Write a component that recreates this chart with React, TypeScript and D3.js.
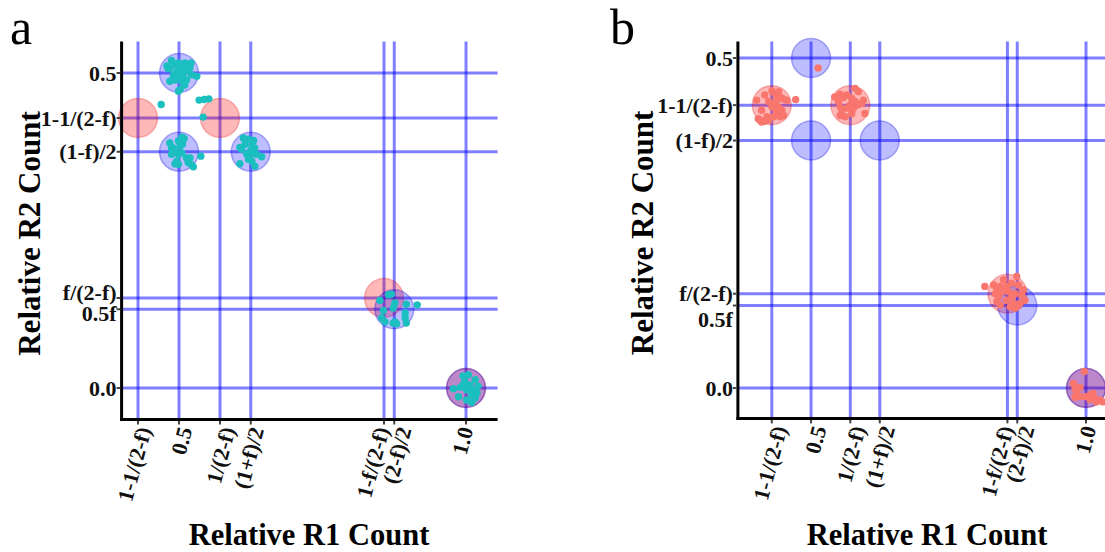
import React from "react";
import * as d3 from "d3";

// ---- tick values / labels (f ≈ 0.25) ----
const xTickValues = [0.4286, 0.5, 0.5714, 0.625, 0.8571, 0.875, 1.0];
const xTickLabels = ["1-1/(2-f)", "0.5", "1/(2-f)", "(1+f)/2", "1-f/(2-f)", "(2-f)/2", "1.0"];
const yTickValues = [0.5, 0.4286, 0.375, 0.1429, 0.125, 0.0];
const yTickLabels = ["0.5", "1-1/(2-f)", "(1-f)/2", "f/(2-f)", "0.5f", "0.0"];

// expected cluster centres
const blueCentersX = [0.5, 0.5, 0.625, 0.875, 1.0];
const blueCentersY = [0.5, 0.375, 0.375, 0.125, 0.0];
const redCentersX = [0.4286, 0.5714, 0.8571, 1.0];
const redCentersY = [0.4286, 0.4286, 0.1429, 0.0];

// axis domains
const panelAXDomain = [0.4, 1.055];
const panelAYDomain = [-0.05, 0.55];
const panelBXDomain = [0.367, 1.04];
const panelBYDomain = [-0.046, 0.525];

// observed points, panel a
const panelAX = [
  0.487, 0.479, 0.484, 0.493, 0.499, 0.505, 0.51, 0.516, 0.521, 0.519, 0.513, 0.508, 0.502, 0.496, 0.49, 0.484, 0.493, 0.499, 0.505, 0.51, 0.502, 0.499, 0.513, 0.522, 0.531, 0.481, 0.506,
  0.469, 0.535, 0.544, 0.552, 0.542,
  0.484, 0.487, 0.505, 0.509, 0.499, 0.502, 0.493, 0.487, 0.499, 0.505, 0.496, 0.493, 0.499, 0.513, 0.519, 0.516, 0.522, 0.525, 0.538, 0.49, 0.506,
  0.612, 0.621, 0.63, 0.615, 0.606, 0.609, 0.627, 0.632, 0.624, 0.63, 0.618, 0.635, 0.644, 0.606, 0.621, 0.632, 0.627,
  0.865, 0.87, 0.85, 0.856, 0.853, 0.859, 0.873, 0.876, 0.896, 0.915, 0.894, 0.894, 0.896, 0.876, 0.873, 0.879,
  0.995, 1.004, 1.016, 1.007, 0.998, 0.99, 0.978, 0.987, 1.001, 1.013, 1.021, 1.019, 1.01, 1.016, 1.001, 1.01, 0.995,
];
const panelAY = [
  0.52, 0.511, 0.508, 0.513, 0.516, 0.511, 0.516, 0.513, 0.516, 0.508, 0.503, 0.5, 0.505, 0.502, 0.497, 0.487, 0.489, 0.492, 0.487, 0.481, 0.474, 0.471, 0.489, 0.497, 0.495, 0.507, 0.495,
  0.45, 0.457, 0.458, 0.459, 0.43,
  0.389, 0.381, 0.398, 0.396, 0.392, 0.384, 0.376, 0.371, 0.371, 0.373, 0.36, 0.356, 0.355, 0.365, 0.365, 0.358, 0.354, 0.351, 0.368, 0.381, 0.387,
  0.397, 0.395, 0.393, 0.387, 0.382, 0.379, 0.384, 0.381, 0.376, 0.372, 0.371, 0.371, 0.367, 0.356, 0.363, 0.352, 0.36,
  0.148, 0.149, 0.139, 0.123, 0.111, 0.105, 0.127, 0.135, 0.133, 0.132, 0.119, 0.111, 0.103, 0.105, 0.103, 0.102,
  0.019, 0.021, 0.013, 0.005, 0.01, 0.001, -0.001, -0.014, -0.003, -0.003, 0.003, -0.008, -0.011, -0.016, -0.019, -0.023, 0.005,
];

// observed points, panel b
const panelBX = [
  0.513,
  0.401, 0.41, 0.416, 0.429, 0.435, 0.441, 0.444, 0.45, 0.456, 0.438, 0.432, 0.429, 0.435, 0.441, 0.447, 0.438, 0.432, 0.444, 0.45, 0.42, 0.407, 0.404, 0.41, 0.416, 0.423, 0.472, 0.423,
  0.543, 0.553, 0.559, 0.565, 0.58, 0.586, 0.574, 0.58, 0.571, 0.553, 0.556, 0.565, 0.577, 0.586, 0.592, 0.595, 0.553, 0.562, 0.574, 0.598, 0.55,
  0.816, 0.832, 0.838, 0.844, 0.847, 0.856, 0.865, 0.874, 0.877, 0.871, 0.859, 0.835, 0.841, 0.838, 0.844, 0.856, 0.865, 0.868, 0.874, 0.88, 0.889, 0.883, 0.871, 0.862, 0.85, 0.886,
  0.997, 0.977, 0.98, 0.989, 0.983, 0.98, 0.989, 0.998, 1.007, 1.013, 1.016, 1.025, 1.031, 1.019, 1.007,
];
const panelBY = [
  0.485,
  0.436, 0.421, 0.444, 0.45, 0.446, 0.449, 0.441, 0.438, 0.436, 0.436, 0.431, 0.426, 0.424, 0.425, 0.421, 0.416, 0.411, 0.411, 0.413, 0.411, 0.406, 0.408, 0.403, 0.404, 0.406, 0.437, 0.434,
  0.441, 0.445, 0.44, 0.444, 0.454, 0.449, 0.439, 0.434, 0.429, 0.426, 0.421, 0.424, 0.424, 0.429, 0.431, 0.436, 0.413, 0.411, 0.416, 0.416, 0.434,
  0.154, 0.156, 0.151, 0.154, 0.146, 0.154, 0.159, 0.169, 0.156, 0.143, 0.146, 0.143, 0.138, 0.131, 0.126, 0.133, 0.138, 0.128, 0.123, 0.128, 0.133, 0.141, 0.121, 0.123, 0.164, 0.149,
  0.025, 0.007, -0.001, 0.001, -0.008, -0.014, -0.013, -0.013, -0.011, -0.008, -0.016, -0.018, -0.021, -0.021, -0.017,
];

const FONT = "'Liberation Serif', 'Times New Roman', serif";

type PanelProps = {
  letter: string;
  letterX: number;
  xDomain: number[];
  yDomain: number[];
  left: number;
  right: number;
  top: number;
  bottom: number;
  xs: number[];
  ys: number[];
  color: string;
  yNudge: Record<number, number>;
  xShift: number[];
  xBase: number;
  yTitleX: number;
  xTitleX: number;
};

function Panel(p: PanelProps) {
  const x = d3.scaleLinear().domain(p.xDomain).range([p.left, p.right]);
  const y = d3.scaleLinear().domain(p.yDomain).range([p.bottom, p.top]);
  const R = 19.5;
  const gridColor = "#0000ff";
  const midY = (p.top + p.bottom) / 2;
  const tickFont = 22;
  return (
    <g>
      <text x={p.letterX} y={44} fontFamily={FONT} fontSize={50} fill="#000">
        {p.letter}
      </text>
      {/* grid lines */}
      {xTickValues.map((v, i) => (
        <line key={"gx" + i} x1={x(v)} x2={x(v)} y1={p.top} y2={p.bottom} stroke={gridColor} strokeOpacity={0.5} strokeWidth={3} />
      ))}
      {yTickValues.map((v, i) => (
        <line key={"gy" + i} x1={p.left} x2={p.right} y1={y(v)} y2={y(v)} stroke={gridColor} strokeOpacity={0.5} strokeWidth={3} />
      ))}
      {/* expected circles */}
      {redCentersX.map((v, i) => (
        <circle key={"rc" + i} cx={x(v)} cy={y(redCentersY[i])} r={R} fill="rgba(255,0,0,0.28)" stroke="rgba(220,0,0,0.25)" strokeWidth={1.5} />
      ))}
      {blueCentersX.map((v, i) => (
        <circle key={"bc" + i} cx={x(v)} cy={y(blueCentersY[i])} r={R} fill="rgba(0,0,255,0.26)" stroke="rgba(0,0,220,0.3)" strokeWidth={1.5} />
      ))}
      {/* observed points */}
      {p.xs.map((v, i) => (
        <circle key={"pt" + i} cx={x(v)} cy={y(p.ys[i])} r={3.7} fill={p.color} />
      ))}
      {/* axes */}
      <line x1={p.left} x2={p.left} y1={p.top} y2={p.bottom + 1.5} stroke="#000" strokeWidth={3} />
      <line x1={p.left - 1.5} x2={p.right} y1={p.bottom} y2={p.bottom} stroke="#000" strokeWidth={3} />
      {yTickValues.map((v, i) => (
        <g key={"yt" + i}>
          <line x1={p.left - 5} x2={p.left - 1.5} y1={y(v)} y2={y(v)} stroke="#444" strokeWidth={2} />
          <text
            x={p.left - 5}
            y={y(v) + (p.yNudge[i] || 0)}
            dy="0.35em"
            textAnchor="end"
            fontFamily={FONT}
            fontWeight="bold"
            fontSize={tickFont}
            fill="#111"
          >
            {yTickLabels[i]}
          </text>
        </g>
      ))}
      {xTickValues.map((v, i) => (
        <g key={"xt" + i}>
          <line x1={x(v)} x2={x(v)} y1={p.bottom + 1.5} y2={p.bottom + 5} stroke="#444" strokeWidth={2} />
          <text
            transform={`translate(${x(v) + p.xBase + p.xShift[i]},${p.bottom + 8}) rotate(-75)`}
            dy="0.35em"
            textAnchor="end"
            fontFamily={FONT}
            fontWeight="bold"
            fontSize={tickFont}
            fill="#111"
          >
            {xTickLabels[i]}
          </text>
        </g>
      ))}
      {/* titles */}
      <text x={p.xTitleX} y={545} textAnchor="middle" fontFamily={FONT} fontWeight="bold" fontSize={30.5} fill="#000">
        Relative R1 Count
      </text>
      <text
        transform={`translate(${p.yTitleX},${midY + 3}) rotate(-90)`}
        textAnchor="middle"
        fontFamily={FONT}
        fontWeight="bold"
        fontSize={31}
        fill="#000"
      >
        Relative R2 Count
      </text>
    </g>
  );
}

export default function App() {
  return (
    <svg width={1105} height={552} style={{ position: "absolute", left: 0, top: 0, background: "#fff" }}>
      <rect width={1105} height={552} fill="#fff" />
      <Panel
        letter="a"
        letterX={10}
        xDomain={panelAXDomain}
        yDomain={panelAYDomain}
        left={121.6}
        right={497.6}
        top={41.5}
        bottom={419.5}
        xs={panelAX}
        ys={panelAY}
        color="#1cbfbf"
        yNudge={{ 3: -6, 4: 4 }}
        xShift={[0, 0, 2, 0, -8, 4, -6]}
        xBase={6}
        yTitleX={40}
        xTitleX={309}
      />
      <Panel
        letter="b"
        letterX={610}
        xDomain={panelBXDomain}
        yDomain={panelBYDomain}
        left={737.9}
        right={1108}
        top={41.5}
        bottom={418.4}
        xs={panelBX}
        ys={panelBY}
        color="#f8766d"
        yNudge={{ 3: 0, 4: 14 }}
        xShift={[0, 0, 0, 0, -9, 2, -5]}
        xBase={8}
        yTitleX={653}
        xTitleX={927}
      />
    </svg>
  );
}
